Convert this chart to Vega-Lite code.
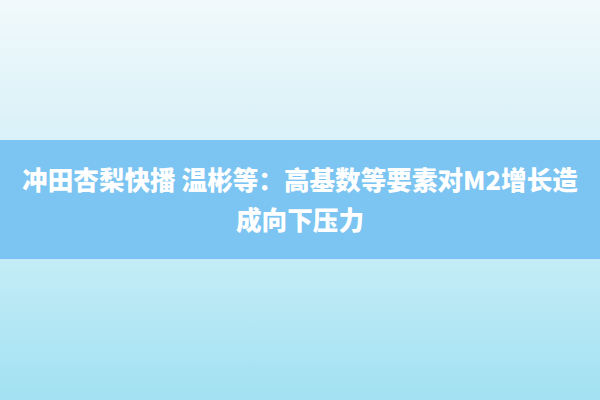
{
  "$schema": "https://vega.github.io/schema/vega-lite/v6.json",
  "width": 600,
  "height": 400,
  "autosize": {"type": "fit", "contains": "padding"},
  "padding": 0,
  "background": "#e4f5fa",
  "config": {"view": {"stroke": null}},
  "datasets": {
    "bg": [{"x1": 0, "x2": 600, "y1": 0, "y2": 400}],
    "band": [{"x1": 0, "x2": 600, "y1": 140, "y2": 259}],
    "lines": [
      {"x": 300, "y": 182, "text": "冲田杏梨快播 温彬等：高基数等要素对M2增长造"},
      {"x": 300, "y": 222, "text": "成向下压力"}
    ]
  },
  "layer": [
    {
      "data": {"name": "bg"},
      "mark": {
        "type": "rect",
        "color": {
          "gradient": "linear",
          "x1": 0, "y1": 0, "x2": 0, "y2": 1,
          "stops": [
            {"offset": 0, "color": "#f1f9fb"},
            {"offset": 0.3, "color": "#dcf2f9"},
            {"offset": 0.65, "color": "#c3ecf6"},
            {"offset": 1, "color": "#a2e1f2"}
          ]
        }
      },
      "encoding": {
        "x": {"field": "x1", "type": "quantitative", "scale": {"domain": [0, 600], "nice": false, "zero": false}, "axis": null},
        "x2": {"field": "x2"},
        "y": {"field": "y1", "type": "quantitative", "scale": {"domain": [0, 400], "nice": false, "zero": false, "reverse": true}, "axis": null},
        "y2": {"field": "y2"}
      }
    },
    {
      "data": {"name": "band"},
      "mark": {"type": "rect", "color": "#7cc4f1"},
      "encoding": {
        "x": {"field": "x1", "type": "quantitative", "scale": {"domain": [0, 600], "nice": false, "zero": false}, "axis": null},
        "x2": {"field": "x2"},
        "y": {"field": "y1", "type": "quantitative", "scale": {"domain": [0, 400], "nice": false, "zero": false, "reverse": true}, "axis": null},
        "y2": {"field": "y2"}
      }
    },
    {
      "data": {"name": "lines"},
      "mark": {"type": "text", "font": "Noto Sans CJK SC", "fontWeight": 900, "fontSize": 25.6, "color": "#ffffff", "align": "center", "baseline": "middle"},
      "encoding": {
        "x": {"field": "x", "type": "quantitative", "scale": {"domain": [0, 600], "nice": false, "zero": false}, "axis": null},
        "y": {"field": "y", "type": "quantitative", "scale": {"domain": [0, 400], "nice": false, "zero": false, "reverse": true}, "axis": null},
        "text": {"field": "text"}
      }
    }
  ]
}
